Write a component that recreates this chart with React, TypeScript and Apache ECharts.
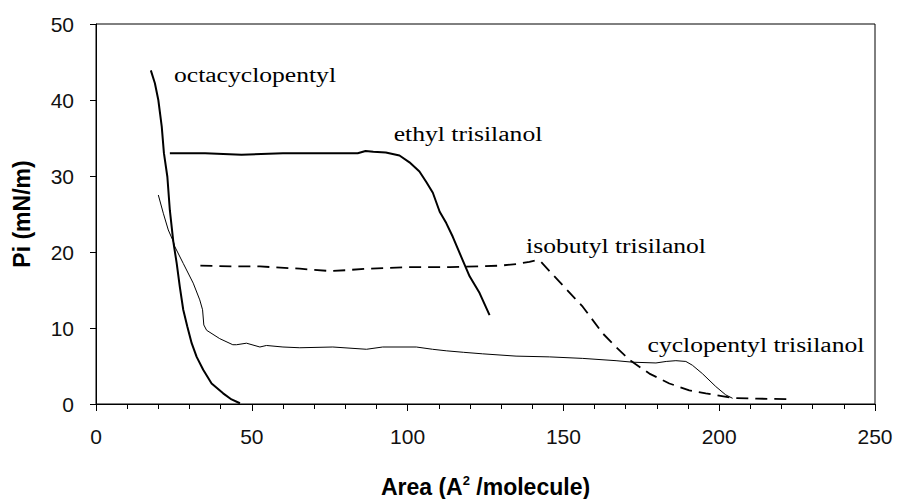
import React, { useEffect, useRef } from "react";
import * as echarts from "echarts";

// octacyclopentyl (thick solid)
const octaArea = [17.6, 18.9, 20.0, 21.1, 21.8, 22.9, 23.7, 24.8, 25.9, 26.9, 28.0, 29.3, 30.7, 32.3, 34.4, 37.1, 40.8, 43.5, 46.2];
const octaPi = [43.9, 42.2, 40.0, 36.5, 33.0, 29.9, 25.5, 21.4, 18.5, 15.4, 12.4, 10.2, 8.0, 6.2, 4.5, 2.7, 1.4, 0.6, 0.1];

// ethyl trisilanol (thick solid)
const ethylArea = [23.7, 35.0, 46.7, 60.0, 75.0, 84.0, 86.5, 89.0, 93.0, 97.4, 100.6, 103.8, 106.0, 108.1, 110.3, 112.4, 114.5, 117.7, 119.9, 123.1, 126.3];
const ethylPi = [33.0, 33.0, 32.8, 33.0, 33.0, 33.0, 33.3, 33.2, 33.1, 32.7, 31.8, 30.6, 29.2, 27.8, 25.3, 23.8, 22.0, 18.9, 16.8, 14.6, 11.7];

// isobutyl trisilanol (dashed)
const isoArea = [33.5, 45.0, 52.6, 65.4, 75.0, 80.0, 86.8, 100.0, 113.5, 129.5, 134.8, 139.1, 141.2, 142.8, 148.7, 156.2, 162.6, 166.9, 171.2, 177.6, 184.0, 190.4, 195.7, 204.3, 212.0, 221.9];
const isoPi = [18.2, 18.1, 18.1, 17.8, 17.5, 17.6, 17.8, 18.0, 18.0, 18.2, 18.4, 18.7, 18.9, 18.7, 16.1, 12.8, 9.3, 7.5, 5.8, 4.0, 2.7, 1.8, 1.4, 0.8, 0.7, 0.65];

// cyclopentyl trisilanol (thin solid)
const cycloArea = [20.0, 21.6, 23.2, 24.8, 25.3, 28.0, 31.2, 33.3, 34.2, 34.6, 35.5, 39.7, 43.9, 45.1, 48.3, 52.6, 54.7, 60.0, 65.4, 76.0, 86.8, 92.0, 102.8, 108.0, 112.4, 118.0, 124.1, 134.8, 145.5, 156.2, 166.9, 172.2, 179.7, 183.0, 186.1, 189.3, 191.4, 194.6, 198.9, 202.1, 204.3];
const cycloPi = [27.5, 25.1, 22.9, 21.4, 20.7, 18.5, 15.9, 13.7, 12.4, 10.4, 9.7, 8.6, 7.8, 7.8, 8.0, 7.5, 7.7, 7.5, 7.4, 7.5, 7.2, 7.5, 7.5, 7.2, 7.0, 6.8, 6.6, 6.3, 6.2, 6.0, 5.7, 5.5, 5.4, 5.6, 5.7, 5.6, 5.1, 4.0, 2.3, 1.2, 0.75];

const xTicks = [0, 50, 100, 150, 200, 250];
const yTicks = [0, 10, 20, 30, 40, 50];

const seriesLabels = ["octacyclopentyl", "ethyl trisilanol", "isobutyl trisilanol", "cyclopentyl trisilanol"];

const zip = (xs: number[], ys: number[]) => xs.map((x, i) => [x, ys[i]]);

export default function App() {
  const ref = useRef<HTMLDivElement>(null);
  useEffect(() => {
    if (!ref.current) return;
    const chart = echarts.init(ref.current, null, { renderer: "svg" });
    const serifFont = '20px "Liberation Serif"';
    const labelPos = [
      [255, 75],
      [468, 134],
      [616, 246],
      [756, 345],
    ];
    chart.setOption({
      animation: false,
      backgroundColor: "#ffffff",
      grid: { left: 96, right: 24, top: 24, bottom: 95, show: true, borderColor: "#000", borderWidth: 1, outerBoundsMode: "none", containLabel: false },
      xAxis: {
        type: "value",
        min: xTicks[0],
        max: xTicks[xTicks.length - 1],
        interval: 50,
        name: "Area (A{sup|2} /molecule)",
        nameLocation: "middle",
        nameGap: 70,
        nameTextStyle: {
          fontFamily: "Liberation Sans",
          fontWeight: "bold",
          fontSize: 23,
          color: "#000",
          lineHeight: 26,
          rich: {
            sup: { fontFamily: "Liberation Sans", fontSize: 13, fontWeight: "bold", color: "#000", verticalAlign: "top", lineHeight: 14, padding: [0, 0, 10, 0] },
          },
        },
        axisLine: { lineStyle: { color: "#000", width: 1 } },
        axisTick: { show: true, inside: false, length: 7, lineStyle: { color: "#000" } },
        minorTick: { show: true, splitNumber: 5, length: 5, lineStyle: { color: "#000" } },
        axisLabel: { fontFamily: "Liberation Sans", fontSize: 21, color: "#111", margin: 22 },
        splitLine: { show: false },
      },
      yAxis: {
        type: "value",
        min: yTicks[0],
        max: yTicks[yTicks.length - 1],
        interval: 10,
        name: "Pi (mN/m)",
        nameLocation: "middle",
        nameGap: 63,
        nameTextStyle: { fontFamily: "Liberation Sans", fontWeight: "bold", fontSize: 23, color: "#000" },
        axisLine: { show: true, lineStyle: { color: "#000", width: 1 } },
        axisTick: { show: true, inside: false, length: 6, lineStyle: { color: "#000" } },
        axisLabel: { fontFamily: "Liberation Sans", fontSize: 21, color: "#111", margin: 22 },
        splitLine: { show: false },
      },
      series: [
        { name: seriesLabels[0], type: "line", data: zip(octaArea, octaPi), showSymbol: false, symbol: "none", lineStyle: { color: "#000", width: 2 } },
        { name: seriesLabels[1], type: "line", data: zip(ethylArea, ethylPi), showSymbol: false, symbol: "none", lineStyle: { color: "#000", width: 2 } },
        { name: seriesLabels[2], type: "line", data: zip(isoArea, isoPi), showSymbol: false, symbol: "none", lineStyle: { color: "#000", width: 1.8, type: [12, 7] } },
        { name: seriesLabels[3], type: "line", data: zip(cycloArea, cycloPi), showSymbol: false, symbol: "none", lineStyle: { color: "#000", width: 1 } },
      ],
      graphic: seriesLabels.map((t, i) => ({
        type: "text",
        x: labelPos[i][0],
        y: labelPos[i][1],
        scaleX: 1.28,
        silent: true,
        style: { text: t, x: 0, y: 0, font: serifFont, fill: "#000", textAlign: "center", textVerticalAlign: "middle" },
      })),
    });
    return () => chart.dispose();
  }, []);
  return <div ref={ref} style={{ position: "fixed", left: 0, top: 0, width: 899, height: 499, background: "#fff" }} />;
}
